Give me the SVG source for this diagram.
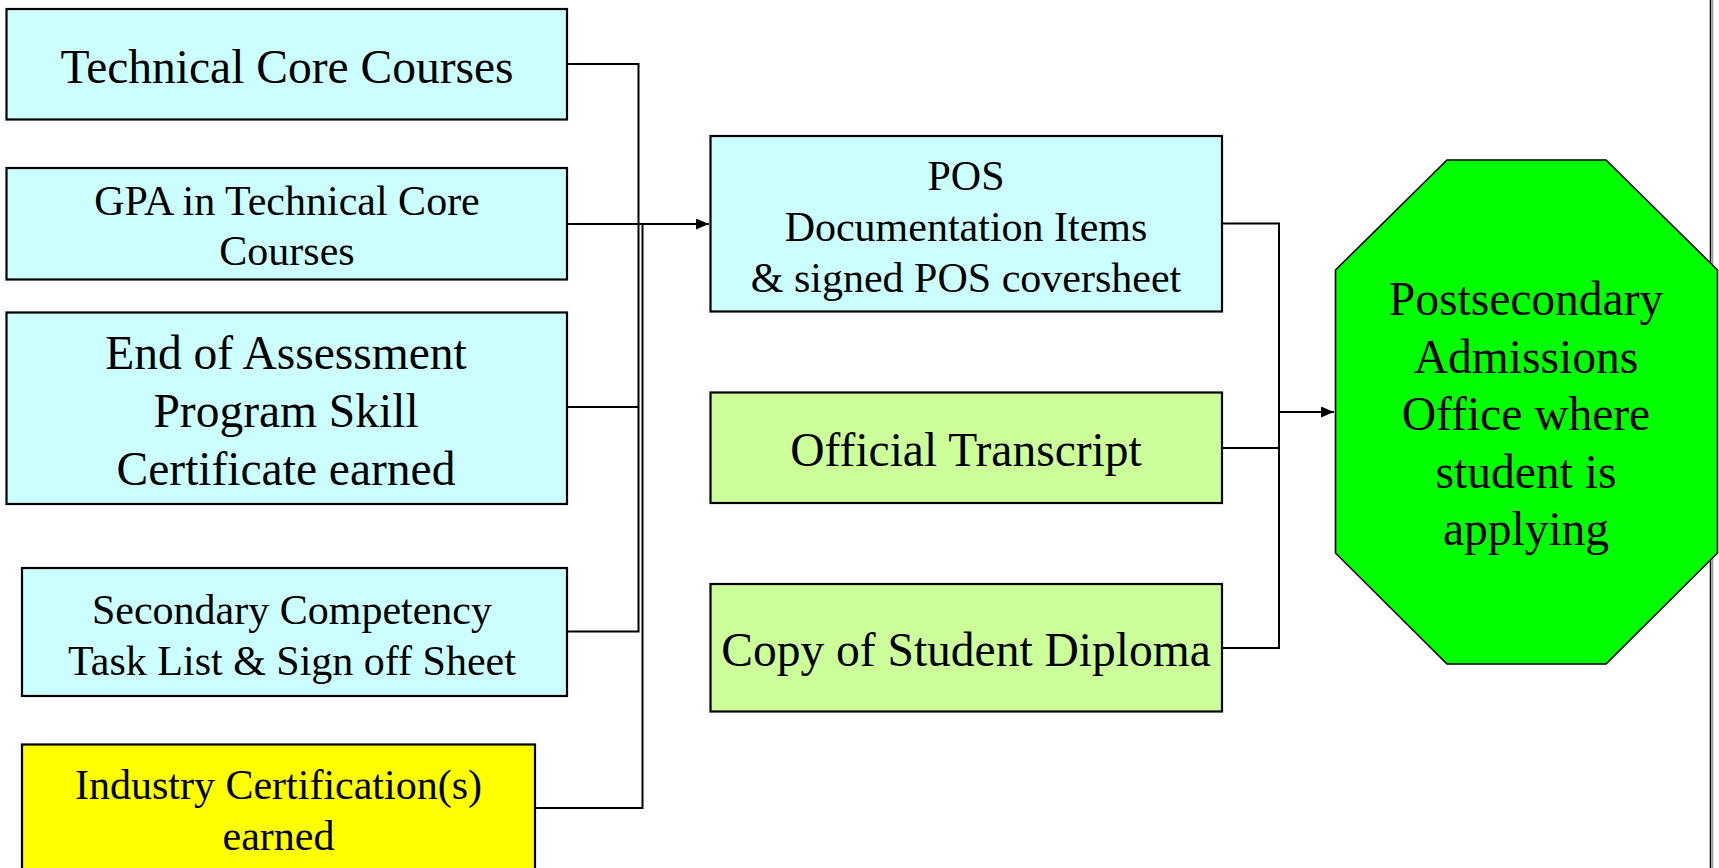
<svg xmlns="http://www.w3.org/2000/svg" width="1719" height="868" viewBox="0 0 1719 868">
<defs>
<style>
.box{stroke:#000;stroke-width:2.2}
.cyan{fill:#CCFFFF}
.lime{fill:#CCFF99}
.yellow{fill:#FFFF00}
.oct{fill:#00FF00;stroke:#000;stroke-width:1.6}
.t{font-family:"Liberation Serif","Times New Roman",serif;fill:#000;text-anchor:middle}
.big{font-size:47.5px}
.sm{font-size:42px}
.ln{fill:none;stroke:#000;stroke-width:2}
</style>
<marker id="ah" viewBox="0 0 13 11" refX="13" refY="5.5" markerWidth="13" markerHeight="11" markerUnits="userSpaceOnUse" orient="auto">
<path d="M0,0 L13,5.5 L0,11 Z" fill="#000"/>
</marker>
</defs>
<rect width="1719" height="868" fill="#fff"/>
<line x1="1712.5" y1="0" x2="1712.5" y2="868" stroke="#999" stroke-width="1.5"/>
<line x1="1710.5" y1="0" x2="1710.5" y2="868" stroke="#000" stroke-width="1.5"/>

<g id="connectors">
<path class="ln" d="M567,64 H638.5 V631.5 H567"/>
<path class="ln" d="M567,407 H638.5"/>
<path class="ln" d="M535,808 H642.5 V224"/>
<path class="ln" d="M567,224 H709" marker-end="url(#ah)"/>
<path class="ln" d="M1222,223.5 H1279 V648 H1222"/>
<path class="ln" d="M1222,448 H1279"/>
<path class="ln" d="M1279,412 H1334" marker-end="url(#ah)"/>
</g>

<g id="n1">
<rect class="box cyan" x="6.5" y="9" width="560.5" height="110.5"/>
<text class="t big" x="287" y="82.5">Technical Core Courses</text>
</g>
<g id="n2">
<rect class="box cyan" x="6.5" y="168" width="560.5" height="111.5"/>
<text class="t sm" x="287" y="214.5">GPA in Technical Core</text>
<text class="t sm" x="287" y="264.5">Courses</text>
</g>
<g id="n3">
<rect class="box cyan" x="6.5" y="312.5" width="560.5" height="191.5"/>
<text class="t big" x="286" y="369">End of Assessment</text>
<text class="t big" x="286" y="427">Program Skill</text>
<text class="t big" x="286" y="485">Certificate earned</text>
</g>
<g id="n4">
<rect class="box cyan" x="22" y="568" width="545" height="128"/>
<text class="t sm" x="292" y="623.5">Secondary Competency</text>
<text class="t sm" x="292" y="674.5">Task List &amp; Sign off Sheet</text>
</g>
<g id="n5">
<rect class="box yellow" x="22" y="744.5" width="513" height="130"/>
<text class="t sm" x="278.5" y="798.5">Industry Certification(s)</text>
<text class="t sm" x="278.5" y="849.5">earned</text>
</g>
<g id="n6">
<rect class="box cyan" x="710.5" y="136" width="511.5" height="175.5"/>
<text class="t sm" x="966" y="189.5">POS</text>
<text class="t sm" x="966" y="241">Documentation Items</text>
<text class="t sm" x="966" y="292">&amp; signed POS coversheet</text>
</g>
<g id="n7">
<rect class="box lime" x="710.5" y="392.5" width="511.5" height="110.5"/>
<text class="t big" x="966" y="466">Official Transcript</text>
</g>
<g id="n8">
<rect class="box lime" x="710.5" y="584" width="511.5" height="127.5"/>
<text class="t big" x="966" y="666">Copy of Student Diploma</text>
</g>
<g id="n9">
<polygon class="oct" points="1447,160 1606,160 1717.5,270 1717.5,553 1606,664 1447,664 1335.5,553 1335.5,270"/>
<text class="t big" x="1526" y="315">Postsecondary</text>
<text class="t big" x="1526" y="372.5">Admissions</text>
<text class="t big" x="1526" y="430">Office where</text>
<text class="t big" x="1526" y="487.5">student is</text>
<text class="t big" x="1526" y="545">applying</text>
</g>
</svg>
